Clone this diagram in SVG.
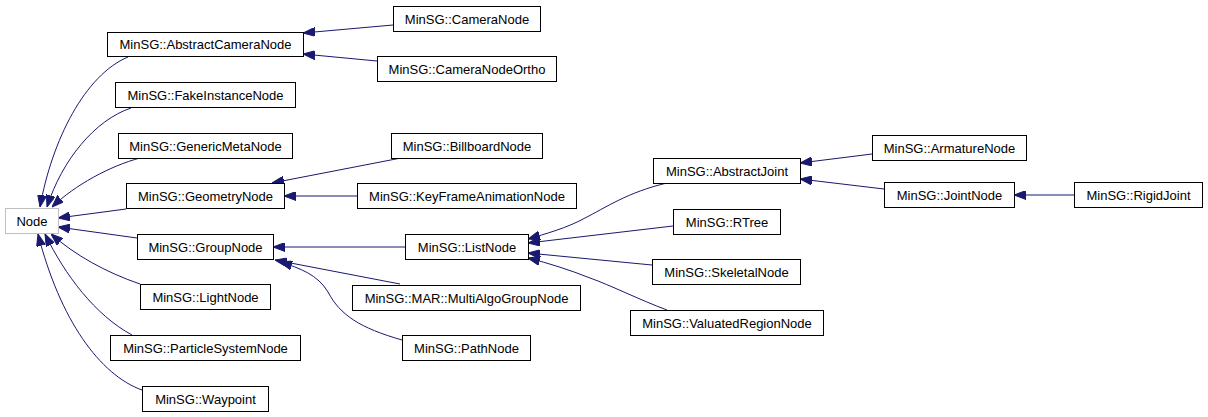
<svg xmlns="http://www.w3.org/2000/svg" width="1208" height="417" viewBox="0 0 1208 417">
<defs>
<style>
.n rect{fill:#fff;stroke:#000;stroke-width:1}
.n.g rect{stroke:#bfbfbf}
.n text{font-family:"Liberation Sans",Arial,sans-serif;font-size:13px;text-anchor:middle;fill:#000}
.e path{fill:none;stroke:#191970;stroke-width:1;marker-end:url(#ah)}
</style>
<marker id="ah" viewBox="0 0 12 9" markerWidth="12" markerHeight="9" refX="12" refY="4.5" orient="auto" markerUnits="userSpaceOnUse">
<path d="M0,0 L12,4.5 L0,9 z" fill="#191970" stroke="#191970"/>
</marker>
</defs>
<rect width="1208" height="417" fill="#fff"/>
<g id="edges" class="e">
<path d="M128,57 C85,75 52,140 40,207"/>
<path d="M131,108 C95,120 62,160 47,207"/>
<path d="M140,158 C110,166 75,185 52,207"/>
<path d="M126,209 L58,218"/>
<path d="M137,238 L58,227"/>
<path d="M140,284 C105,272 75,255 51,234"/>
<path d="M132,335 C95,315 65,275 45,234"/>
<path d="M142,390 C100,375 60,320 38,234"/>
<path d="M393,25 L303,33"/>
<path d="M377,61 L303,54"/>
<path d="M401,158 L272,183"/>
<path d="M357,196 L284,196"/>
<path d="M405,247 L273,247"/>
<path d="M400,284 L275,260"/>
<path d="M402,340 C360,328 340,315 328,292 C318,275 300,268 280,262"/>
<path d="M667,183 C628,192 605,208 585,218 C567,228 545,234 528,239"/>
<path d="M673,226 L528,243"/>
<path d="M652,265 L528,253"/>
<path d="M667,310 C640,300 610,285 590,278 C570,270 548,263 528,258"/>
<path d="M872,154 L800,163"/>
<path d="M884,189 L800,179"/>
<path d="M1074,195 L1014,195"/>
</g>
<g id="node-Node" class="n g"><rect x="5.5" y="208.5" width="53" height="25"/><text x="32" y="225.5">Node</text></g>
<g id="node-AbstractCameraNode" class="n"><rect x="107.5" y="32.5" width="196" height="24"/><text x="205.5" y="49">MinSG::AbstractCameraNode</text></g>
<g id="node-FakeInstanceNode" class="n"><rect x="115.5" y="82.5" width="180" height="25"/><text x="205.5" y="99.5">MinSG::FakeInstanceNode</text></g>
<g id="node-GenericMetaNode" class="n"><rect x="118.5" y="133.5" width="174" height="25"/><text x="205.5" y="150.5">MinSG::GenericMetaNode</text></g>
<g id="node-GeometryNode" class="n"><rect x="126.5" y="183.5" width="158" height="25"/><text x="205.5" y="200.5">MinSG::GeometryNode</text></g>
<g id="node-GroupNode" class="n"><rect x="137.5" y="234.5" width="136" height="25"/><text x="205.5" y="251.5">MinSG::GroupNode</text></g>
<g id="node-LightNode" class="n"><rect x="140.5" y="284.5" width="130" height="25"/><text x="205.5" y="301.5">MinSG::LightNode</text></g>
<g id="node-ParticleSystemNode" class="n"><rect x="110.5" y="335.5" width="190" height="25"/><text x="205.5" y="352.5">MinSG::ParticleSystemNode</text></g>
<g id="node-Waypoint" class="n"><rect x="142.5" y="386.5" width="126" height="25"/><text x="205.5" y="403.5">MinSG::Waypoint</text></g>
<g id="node-CameraNode" class="n"><rect x="393.5" y="6.5" width="147" height="25"/><text x="467" y="23.5">MinSG::CameraNode</text></g>
<g id="node-CameraNodeOrtho" class="n"><rect x="377.5" y="56.5" width="179" height="25"/><text x="467" y="73.5">MinSG::CameraNodeOrtho</text></g>
<g id="node-BillboardNode" class="n"><rect x="391.5" y="133.5" width="151" height="25"/><text x="467" y="150.5">MinSG::BillboardNode</text></g>
<g id="node-KeyFrameAnimationNode" class="n"><rect x="357.5" y="183.5" width="219" height="25"/><text x="467" y="200.5">MinSG::KeyFrameAnimationNode</text></g>
<g id="node-ListNode" class="n"><rect x="405.5" y="234.5" width="123" height="25"/><text x="467" y="251.5">MinSG::ListNode</text></g>
<g id="node-MultiAlgoGroupNode" class="n"><rect x="352.5" y="285.5" width="228" height="25"/><text x="466.5" y="302.5">MinSG::MAR::MultiAlgoGroupNode</text></g>
<g id="node-PathNode" class="n"><rect x="402.5" y="335.5" width="128" height="25"/><text x="466.5" y="352.5">MinSG::PathNode</text></g>
<g id="node-AbstractJoint" class="n"><rect x="653.5" y="158.5" width="147" height="25"/><text x="727" y="175.5">MinSG::AbstractJoint</text></g>
<g id="node-RTree" class="n"><rect x="673.5" y="209.5" width="107" height="25"/><text x="727" y="226.5">MinSG::RTree</text></g>
<g id="node-SkeletalNode" class="n"><rect x="652.5" y="259.5" width="148" height="25"/><text x="726.5" y="276.5">MinSG::SkeletalNode</text></g>
<g id="node-ValuatedRegionNode" class="n"><rect x="630.5" y="310.5" width="193" height="25"/><text x="727" y="327.5">MinSG::ValuatedRegionNode</text></g>
<g id="node-ArmatureNode" class="n"><rect x="872.5" y="135.5" width="154" height="25"/><text x="949.5" y="152.5">MinSG::ArmatureNode</text></g>
<g id="node-JointNode" class="n"><rect x="884.5" y="182.5" width="130" height="25"/><text x="949.5" y="199.5">MinSG::JointNode</text></g>
<g id="node-RigidJoint" class="n"><rect x="1074.5" y="182.5" width="128" height="25"/><text x="1138.5" y="199.5">MinSG::RigidJoint</text></g>
</svg>
